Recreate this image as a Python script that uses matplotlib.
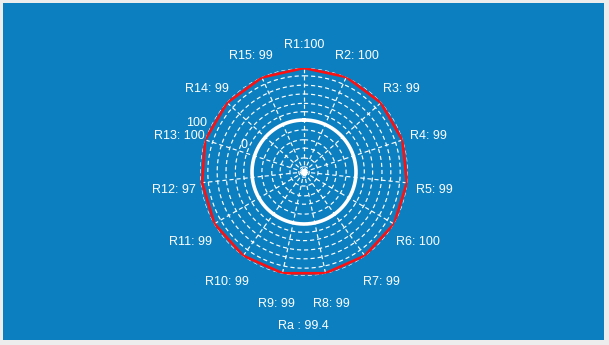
import numpy as np
import matplotlib
matplotlib.use("Agg")
import matplotlib.pyplot as plt
from matplotlib.patches import Rectangle

plt.rcParams["font.family"] = ["Liberation Sans", "DejaVu Sans"]

names = ["R1", "R2", "R3", "R4", "R5", "R6", "R7", "R8", "R9", "R10",
         "R11", "R12", "R13", "R14", "R15"]
values = [100, 100, 99, 99, 99, 100, 99, 99, 99, 99, 99, 97, 100, 99, 99]
seps = [":"] + [": "] * 14
ra_text = "Ra : 99.4"
rmin, rmax = -100, 100
radial_ticks = [0, 100]
ring_values = [-90, -73, -54, -38, -19, 16, 32, 50, 67, 85, 100]

BLUE = "#0b7fc0"
W, H = 609, 345
fig = plt.figure(figsize=(W / 100, H / 100), dpi=100, facecolor="#ededed")
fig.patches.append(Rectangle((3 / W, 5 / H), 601 / W, 337 / H,
                             transform=fig.transFigure, facecolor=BLUE,
                             edgecolor="none", zorder=-5))

cx, cy, R = 304, 172, 104
ax = fig.add_axes([(cx - R) / W, (H - cy - R) / H, 2 * R / W, 2 * R / H],
                  projection="polar")
ax.set_zorder(2)
ax.patch.set_alpha(0)
ax.set_theta_zero_location("N")
ax.set_theta_direction(-1)
ax.set_ylim(0, rmax - rmin)
ax.set_axis_off()

n = len(values)
theta = np.arange(n) * 2 * np.pi / n
full = np.linspace(0, 2 * np.pi, 361)
dash = (0, (3.5, 2.5))

for rv in ring_values:
    ax.plot(full, np.full_like(full, rv - rmin), color="white", lw=0.85,
            linestyle=dash)
for t in theta:
    ax.plot([t, t], [0, rmax - rmin], color="white", lw=0.85, linestyle=dash)

# zero circle
ax.plot(full, np.full_like(full, 0 - rmin), color="white", lw=2.6)
ax.scatter([0], [0], marker="s", s=12, color="white", zorder=5)

r = np.array(values) - rmin
ax.plot(np.append(theta, theta[0]), np.append(r, r[0]), color="#ff1010",
        lw=1.9, zorder=4)

# label ring ~131 px from the centre, nudged down a little
lab_r = 131 / R * (rmax - rmin)
for t, nm, sp, v in zip(theta, names, seps, values):
    ax.annotate(f"{nm}{sp}{v}", (t, lab_r), xytext=(0, -3),
                textcoords="offset points", color="white", fontsize=9,
                ha="center", va="center", annotation_clip=False)

tick_angle = np.deg2rad(90 - 155.5)
for tv in radial_ticks:
    ax.text(tick_angle, tv - rmin + 26, str(tv), color="white", fontsize=9,
            ha="center", va="center")

fig.text(303.5 / W, 1 - 326 / H, ra_text, color="white", fontsize=9,
         ha="center", va="center")

fig.savefig("out.png", dpi=100, facecolor=fig.get_facecolor())
